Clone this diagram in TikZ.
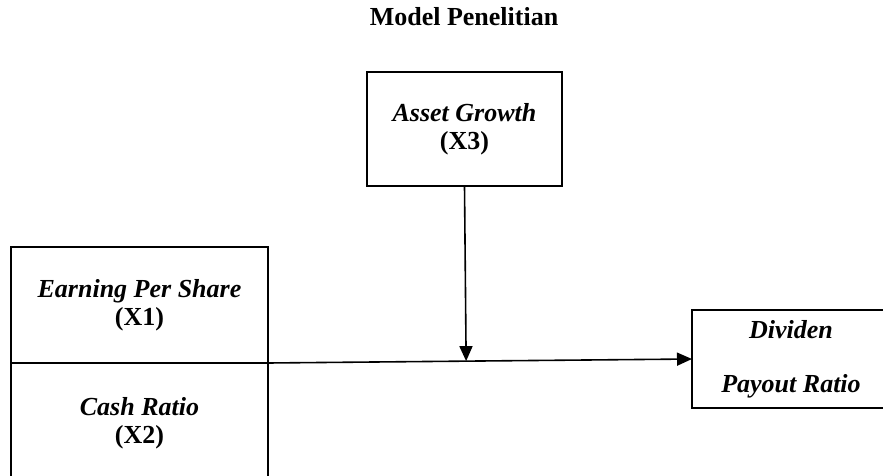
\documentclass[tikz,border=0pt]{standalone}
\usepackage{fontspec}
\setmainfont{Liberation Serif}
\usetikzlibrary{positioning, arrows.meta, calc}

\begin{document}
\begin{tikzpicture}[x=0.5pt, y=-0.5pt,
    txt/.style={font=\fontsize{13}{14}\selectfont\bfseries},
    box/.style={txt, draw, line width=0.8pt, align=center, inner sep=0pt, outer sep=0pt},
    arrow/.style={-{Triangle[length=7.5pt, width=6.5pt]}, line width=0.8pt}
]

    % Page
    \useasboundingbox (0,0) rectangle (883,476);
    \clip (0,0) rectangle (883,476);

    % Title
    \node[txt] (title) at (464,17) {Model Penelitian};

    % Independent variables
    \node[box, minimum width=128.5pt, minimum height=58pt] (eps) at (139.5,305)
        {\textit{Earning Per Share}\\(X1)};
    \node[box, minimum width=128.5pt, minimum height=60pt, below=0pt of eps] (cash)
        {\textit{Cash Ratio}\\(X2)};

    % Moderating variable
    \node[box, minimum width=97.5pt, minimum height=57pt] (asset) at (464.5,129)
        {\textit{Asset Growth}\\(X3)};

    % Dependent variable
    \node[box, minimum width=99pt, minimum height=49pt] (div) at (791,359)
        {\textit{Dividen}\\[13pt]\textit{Payout Ratio}};

    % Arrows
    \draw[arrow] (eps.south east) -- (div.west);
    \coordinate (join) at ($(eps.south east)!(asset.south)!(div.west)$);
    \draw[arrow] (asset.south) -- (join);

\end{tikzpicture}
\end{document}
